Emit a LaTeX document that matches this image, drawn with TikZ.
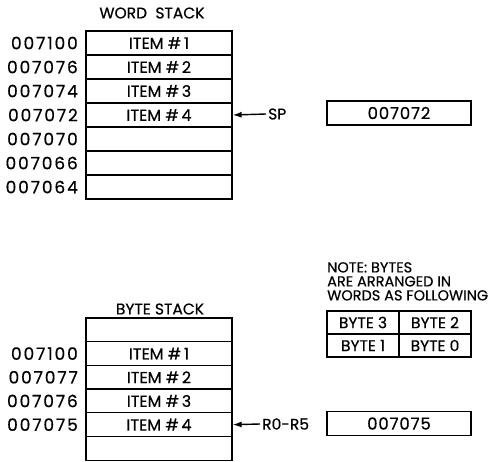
\documentclass[tikz,border=0pt]{standalone}
\usepackage{fontspec}
\setmainfont{Poppins}[FakeBold=0.5]
\usetikzlibrary{positioning,arrows.meta}
\tikzset{
  cellbox/.style={draw, line width=1.3pt, minimum width=146pt, minimum height=#1, inner sep=0pt, font=\fontsize{16}{18}\selectfont},
  cellbox/.default=24pt,
  addr/.style={anchor=east, inner sep=0pt, font=\fontsize{17}{19}\selectfont\addfontfeatures{LetterSpace=11}},
  stacktitle/.style={inner sep=0pt, font=\fontsize{15.5}{17}\selectfont},
  regbox/.style={draw, line width=1.3pt, minimum width=144pt, minimum height=24pt, inner sep=0pt, font=\fontsize{16.5}{18}\selectfont\addfontfeatures{LetterSpace=5}},
  bytecell/.style={draw, line width=1.3pt, minimum width=72pt, minimum height=23pt, inner sep=0pt, font=\fontsize{15.5}{17}\selectfont},
  ptrlabel/.style={anchor=west, inner sep=2pt, font=\fontsize{15.5}{17}\selectfont},
  ptrarrow/.style={-{Latex[length=9pt,width=6pt]}, line width=1.4pt},
  note/.style={anchor=north west, inner sep=0pt, align=left, font=\fontsize{14.5}{14}\selectfont}
}
\begin{document}
\begin{tikzpicture}[x=1pt, y=-1pt]
  \useasboundingbox (0,0) rectangle (495,461);
  % word stack
  \node[stacktitle] (wtitle) at (152,13) {WORD\ \ STACK};
  \foreach \i/\addrtxt/\itemtxt in {1/007100/{ITEM \#\,1},2/007076/{ITEM \#\,2},3/007074/{ITEM \#\,3},4/007072/{ITEM \#\,4},5/007070/{},6/007066/{},7/007064/{}} {
    \node[cellbox] (w\i) at (159,19+24*\i) {\itemtxt};
    \node[addr] (wa\i) at (78,19+24*\i) {\addrtxt};
  }
  \node[ptrlabel] (sp) at (266,114) {SP};
  \draw[ptrarrow] (sp.west) -- (w4.east);
  \node[regbox] (spval) at (399,113) {007072};

  % byte stack
  \node[stacktitle] (btitle) at (160,309) {BYTE STACK};
  \node[cellbox=23.7pt] (b0) at (159,329.85) {};
  \foreach \i/\addrtxt/\itemtxt in {1/007100/{ITEM \#\,1},2/007077/{ITEM \#\,2},3/007076/{ITEM \#\,3},4/007075/{ITEM \#\,4}} {
    \node[cellbox=23.7pt] (b\i) at (159,329.85+23.7*\i) {\itemtxt};
    \node[addr] (ba\i) at (78,329.85+23.7*\i) {\addrtxt};
  }
  \node[cellbox=23.7pt] (b5) at (159,448.35) {};
  \node[ptrlabel] (rr) at (260,424) {R0-R5};
  \draw[ptrarrow] (rr.west) -- (b4.east);
  \node[regbox] (rrval) at (399,423.5) {007075};

  % byte order note
  \node[note] (note) at (327,262) {NOTE: BYTES\\ARE ARRANGED IN\\WORDS AS FOLLOWING};
  \node[bytecell] (by3) at (363,322.5) {BYTE 3};
  \node[bytecell] (by2) at (435,322.5) {BYTE 2};
  \node[bytecell] (by1) at (363,345.5) {BYTE 1};
  \node[bytecell] (by0) at (435,345.5) {BYTE 0};
\end{tikzpicture}
\end{document}
